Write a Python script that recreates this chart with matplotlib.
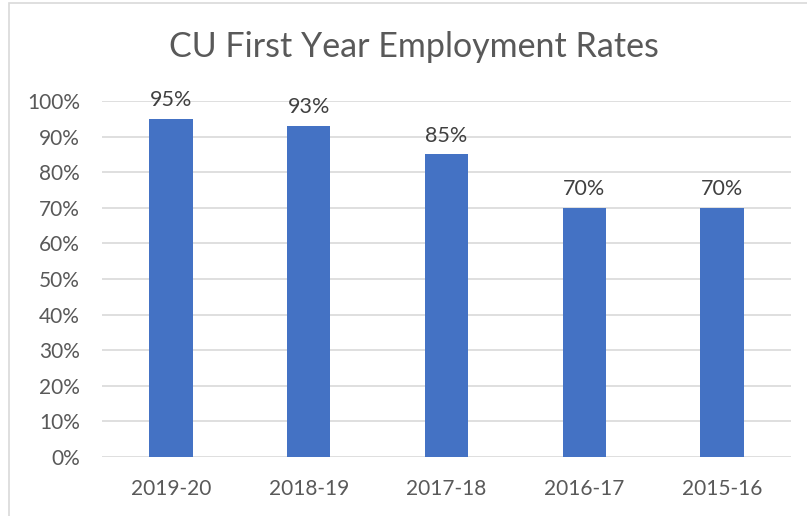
import matplotlib.pyplot as plt
from matplotlib.patches import Rectangle

# Data
years = ['2019-20', '2018-19', '2017-18', '2016-17', '2015-16']
rates = [0.95, 0.93, 0.85, 0.70, 0.70]
y_ticks = [0.0, 0.1, 0.2, 0.3, 0.4, 0.5, 0.6, 0.7, 0.8, 0.9, 1.0]

plt.rcParams['font.family'] = ['Lato', 'DejaVu Sans']

W, H = 807, 516
fig = plt.figure(figsize=(W / 100, H / 100), dpi=100)

# light chart border (right and bottom edges are cut off in the reference)
top = 1 - 3 / H
fig.patches.append(Rectangle((8.5 / W, -0.05), 1.2, top + 0.05,
                             transform=fig.transFigure, fill=False,
                             edgecolor='#d9d9d9', linewidth=1.2))

ax = fig.add_axes([102 / W, (H - 457) / H, (791 - 102) / W, (457 - 101) / H])
x = range(len(years))
ax.bar(x, rates, width=0.315, color='#4472c4', zorder=3)

for i, v in enumerate(rates):
    ax.text(i, v + 0.025, f'{round(v * 100)}%', ha='center', va='bottom',
            fontsize=15.5, color='#404040')

ax.set_xlim(-0.5, len(years) - 0.5)
ax.set_ylim(0, 1)
ax.set_yticks(y_ticks)
ax.set_yticklabels([f'{round(t * 100)}%' for t in y_ticks])
ax.set_xticks(list(x))
ax.set_xticklabels(years)
ax.tick_params(axis='both', length=0, labelsize=15, labelcolor='#595959')
ax.tick_params(axis='y', pad=16)
ax.tick_params(axis='x', pad=16)
ax.grid(axis='y', color='#d9d9d9', linewidth=1.2, zorder=0)
for s in ax.spines.values():
    s.set_visible(False)

fig.text(414 / W, 1 - 47 / H, 'CU First Year Employment Rates', ha='center',
         va='center', fontsize=24.5, color='#595959')

fig.savefig('out.png', dpi=100)
